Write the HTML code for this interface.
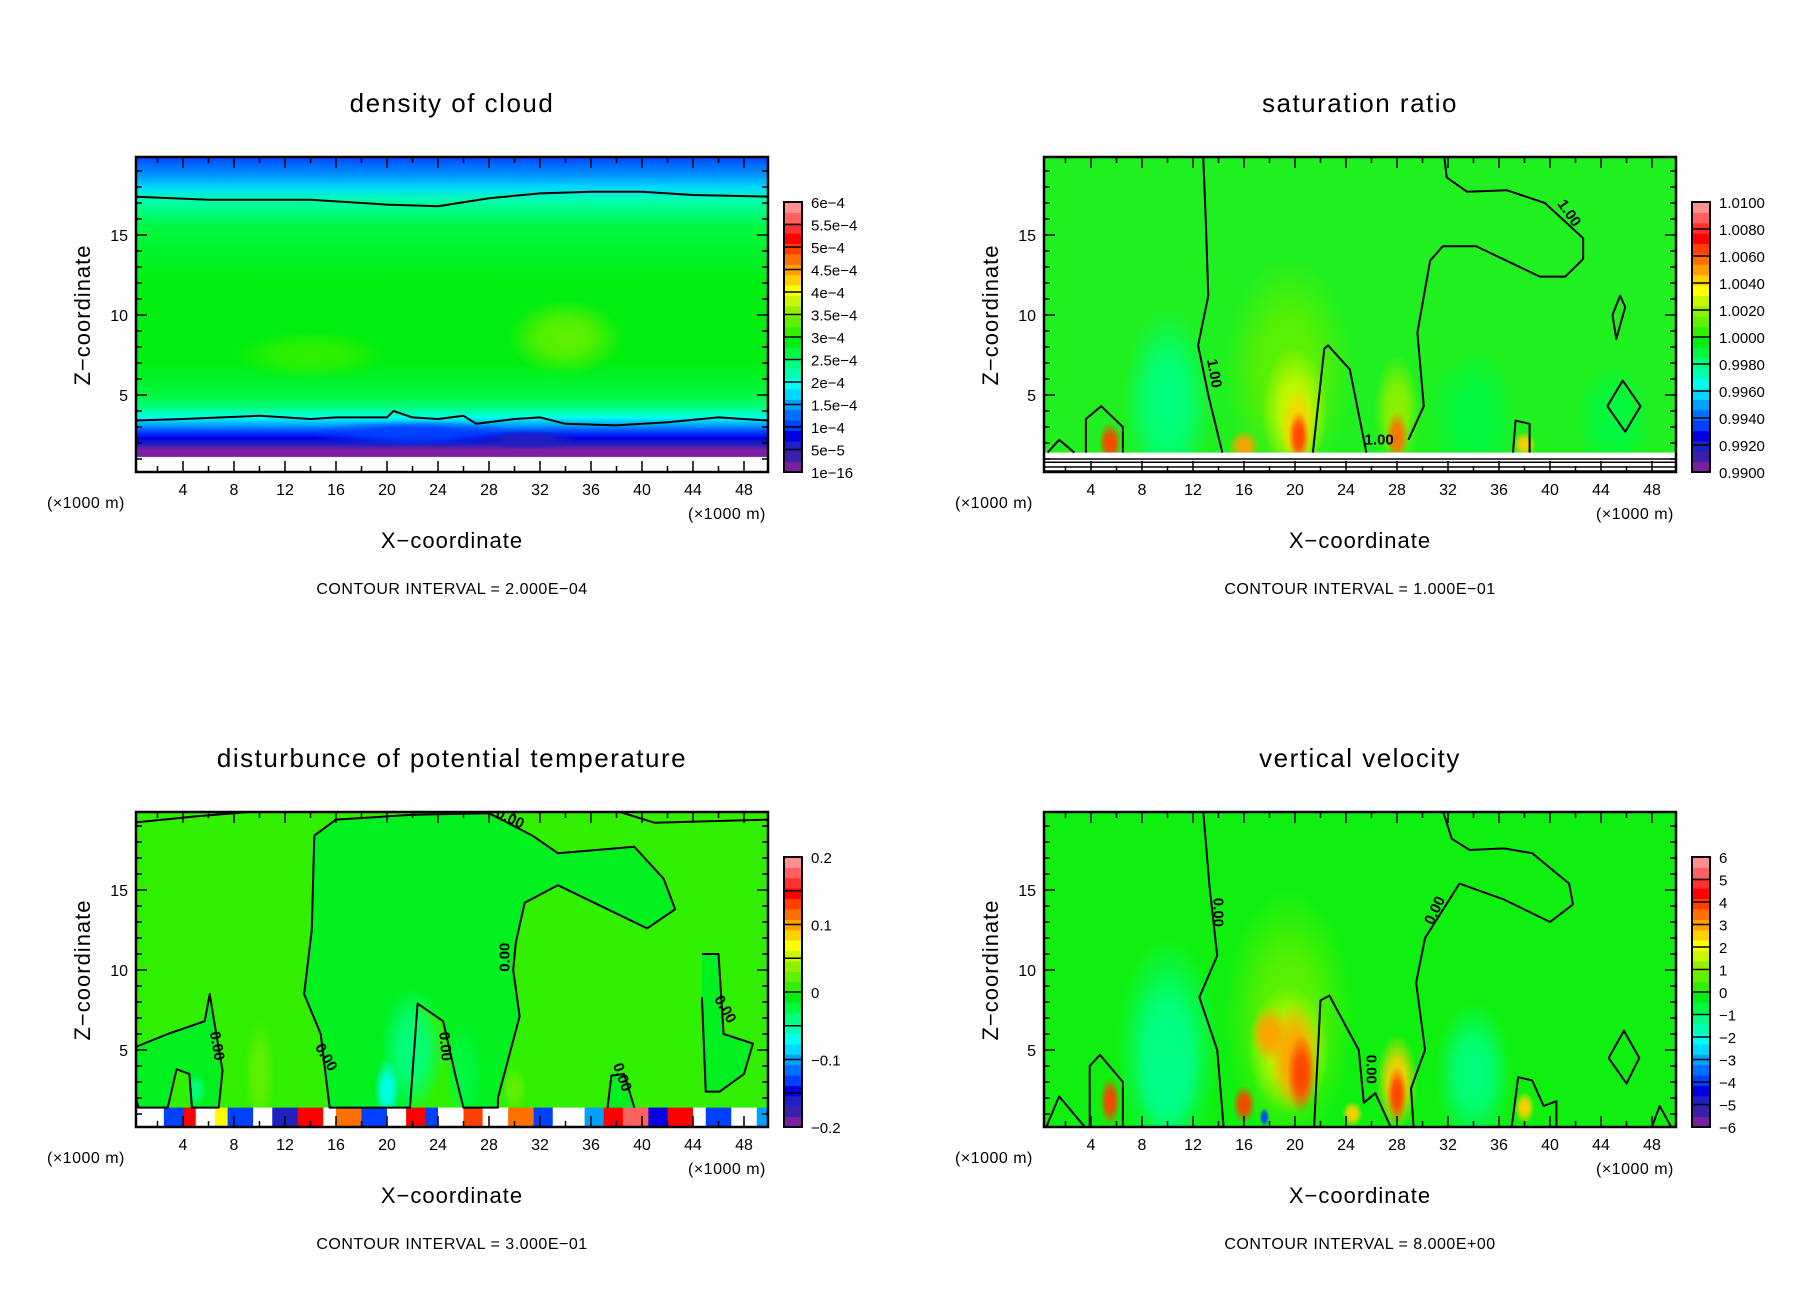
<!DOCTYPE html>
<html><head><meta charset="utf-8">
<style>
html,body{margin:0;padding:0;background:#fff;}
svg{display:block;}
text{font-family:"Liberation Sans","DejaVu Sans",sans-serif;fill:#000;}
</style></head>
<body>
<svg id="fig" width="1808" height="1308" viewBox="0 0 1808 1308" xmlns="http://www.w3.org/2000/svg">
<defs></defs>
</svg>
<script>
// colormap, index 0 (lowest) .. 25 (highest)
const cmap = ["#7a1fa0","#3a1fa8","#2020c0","#0000e0","#0040ff","#0070ff","#00a0ff","#00d8ff","#00ffee","#00ffb0","#00ff80","#00f840","#00ee10","#30f000","#60f000","#90f000","#c8f800","#ffff00","#ffd000","#ffa000","#ff7000","#ff4000","#ff0000","#ff3030","#ff6060","#ff9090"];

const xTicks = [4,8,12,16,20,24,28,32,36,40,44,48];
const zTicks = [5,10,15];

// panel 1: density of cloud
const p1Labels = ["6e\u22124","5.5e\u22124","5e\u22124","4.5e\u22124","4e\u22124","3.5e\u22124","3e\u22124","2.5e\u22124","2e\u22124","1.5e\u22124","1e\u22124","5e\u22125","1e\u221216"];
const p1GradZ =   [19.94,19.3,18.6,18.0,17.2,15.5,12.0,7.0,5.0,4.2,3.6,3.1,2.7,2.3,1.9,1.6,1.15,1.1];
const p1GradLvl = [4,    5,   6,   7,   9,   11,  12,  12, 11, 10, 8,  6,  4,  3,  2,  0,  0,   -1];
const p1Blobs = [[34,8.6,4.5,2.4,14],[14,7.5,6,1.5,13],[22,2.6,8,0.8,4],[31,2.2,4,0.6,2]];
const p1Contours = [
 [[0,17.4],[6,17.2],[14,17.2],[20,16.9],[24,16.8],[28,17.3],[32,17.6],[36,17.7],[40,17.7],[44,17.5],[50,17.4]],
 [[0,3.4],[4,3.5],[10,3.7],[14,3.5],[16,3.6],[20,3.6],[20.5,4.0],[22,3.6],[24,3.5],[26,3.7],[27,3.2],[30,3.5],[32,3.6],[34,3.2],[38,3.1],[42,3.3],[46,3.6],[50,3.4]]
];

// panel 2: saturation ratio
const p2Labels = ["1.0100","1.0080","1.0060","1.0040","1.0020","1.0000","0.9980","0.9960","0.9940","0.9920","0.9900"];
const p2Blobs = [[19.5,6.5,5,7,14],[20,4,2.6,4,16],[20.2,3,1.4,2.5,18],[20.3,2.4,0.8,1.6,21],[16,1.8,1.2,1,19],[5.5,2,0.9,1.3,21],[28,4,1.8,3.5,15],[28,2.4,0.9,1.6,20],[10,4.5,3.5,6,10],[34,3.5,3.5,4.5,11],[45,3.5,3,3.5,11],[38,1.9,0.9,0.8,18]];
const p2Contours = [
 [[12.8,19.94],[13,16],[13.2,11.2],[12.4,8.1],[13.2,5],[14.3,1.4]],
 [[21.4,1.4],[22.3,7.9],[22.6,8.1],[24.3,6.6],[25.6,1.4]],
 [[28.9,2.2],[30.1,4.3],[29.6,8.9],[30.6,13.4],[31.6,14.3],[34.2,14.3],[39.2,12.4],[41.2,12.4],[42.6,13.5],[42.6,14.8],[39.6,17],[36.6,17.8],[33.5,17.7],[31.9,18.6],[31.7,19.94]],
 [[3.6,1.4],[3.6,3.5],[4.8,4.3],[6.5,3],[6.5,1.4]],
 [[0.6,1.4],[1.5,2.2],[2.7,1.4]],
 [[37.1,1.4],[37.3,3.4],[38.4,3.2],[38.4,1.4]],
 [[44.9,10],[45.5,11.2],[45.9,10.5],[45.2,8.5],[44.9,10]],
 [[44.5,4.3],[45.7,5.9],[47.1,4.3],[45.9,2.7],[44.5,4.3]]
];
const p2CLabels = [[13.3,6.3,"1.00",80],[41.2,16.2,"1.00",55],[26.6,1.9,"1.00",0]];

// panel 3: disturbance of potential temperature
const p3Labels = ["0.2","","0.1","","0","","\u22120.1","","\u22120.2"];
const p3Blobs = [[22,5,2.5,4,10],[20,2.5,1,2,8],[26,3.5,1.5,3,11],[10,3.5,1.2,3.5,14],[30,2.5,1,1.5,14],[5,2.5,0.8,1,10]];
const p3Inside = [[14.3,18.4],[16,19.4],[22,19.7],[28,19.8],[31.4,18.4],[33.4,17.3],[39.4,17.7],[41.7,15.7],[42.6,13.8],[40.4,12.6],[33.4,15.3],[30.8,14.2],[30.1,11.7],[29.9,10],[30.4,7.1],[28.7,2],[28.7,1.4],[26,1.4],[25.4,3.3],[24.4,6.8],[22.4,7.9],[21.8,1.4],[15.5,1.4],[14.8,6],[13.5,8.5],[14.1,12.5],[14.3,18.4]];
const p3Lobes = [
 [[0,5.1],[2.8,6],[5.7,6.8],[6.1,8.5],[6.4,7],[7.1,3.7],[6.8,1.4],[4.7,1.4],[4.5,3.5],[3.5,3.8],[2.8,1.4],[0.5,1.4],[0,3]],
 [[44.7,11],[46,11],[46.4,6],[48.7,5.4],[48,3.5],[46.1,2.4],[45,2.4],[44.7,8.3]],
 [[37.3,1.4],[37.6,3.4],[38.6,3.5],[39.4,1.4]]
];
const p3Contours = [
 [[0,19.2],[5,19.6],[10.1,19.94]],
 [[38,19.94],[41,19.2],[50,19.4]]
];
const p3CLabels = [[29.5,19.2,"0.00",25],[6.3,5.2,"0.00",80],[14.9,4.4,"0.00",60],[24.2,5.2,"0.00",85],[29.6,10.8,"0.00",-90],[38.1,3.2,"0.00",70],[46.2,7.4,"0.00",60]];
const p3Band = [[0,2.5,-1],[2.5,1.5,4],[4,1,22],[5,1.5,-1],[6.5,1,17],[7.5,2,4],[9.5,1.5,-1],[11,2,2],[13,2,22],[15,1,-1],[16,2,20],[18,2,4],[20,1.5,-1],[21.5,1.5,22],[23,1,4],[24,2,-1],[26,1.5,21],[27.5,2,-1],[29.5,2,20],[31.5,1.5,4],[33,2.5,-1],[35.5,1.5,6],[37,1.5,22],[38.5,2,24],[40.5,1.5,3],[42,2,22],[44,1,-1],[45,2,4],[47,2,-1],[49,1,6]];

// panel 4: vertical velocity
const p4Labels = ["6","5","4","3","2","1","0","\u22121","\u22122","\u22123","\u22124","\u22125","\u22126"];
const p4Blobs = [[19.5,7,5,8,14],[19.5,5,3.2,4,16],[20,4.5,2,3.5,19],[20.5,3.5,1.1,2.5,21],[18,6,1.5,1.8,19],[16,1.6,0.9,1.2,21],[28,3,1.6,3,18],[28,2.2,0.8,1.8,21],[5.5,1.8,0.8,1.5,21],[10,4,2.5,4.5,8],[10,5,4,7,10],[34,3.5,3,4.5,10],[24.5,1,0.8,0.8,18],[38,1.4,0.8,1,18],[17.6,0.8,0.4,0.6,4]];
const p4Contours = [
 [[12.8,19.94],[13.3,15.2],[13.9,10.9],[12.5,8.3],[13.9,5],[14.4,0.2]],
 [[21.5,0.2],[22,8.1],[22.7,8.4],[25,5],[25.4,1.7],[26.3,2.3],[27.5,0.2]],
 [[29.3,0.2],[29.1,2.6],[30.2,5],[29.5,9.2],[30.2,12],[32.9,15.4],[36.4,14.4],[40,13],[41.8,14.1],[41.5,15.4],[38.6,17.3],[36.4,17.6],[33.7,17.5],[32.3,18.2],[31.6,19.94]],
 [[3.9,0.2],[3.9,4],[4.7,4.7],[6.5,3],[6.5,0.2]],
 [[0.5,0.2],[1.5,2.1],[3.5,0.2]],
 [[37,0.2],[37.5,3.3],[38.6,3.1],[39.5,1.5],[40.5,1.8],[40.5,0.2]],
 [[44.6,4.5],[45.8,6.2],[47,4.5],[46,2.9],[44.6,4.5]],
 [[48,0.2],[48.6,1.5],[49.5,0.2]]
];
const p4CLabels = [[13.6,13.6,"0.00",90],[25.6,3.8,"0.00",90],[31.3,13.6,"0.00",-65]];

const NS = "http://www.w3.org/2000/svg";
const svg = document.getElementById("fig");
const defs = svg.querySelector("defs");
function mk(tag, attrs, parent){ const e=document.createElementNS(NS,tag); for(const k in attrs) e.setAttribute(k,attrs[k]); (parent||svg).appendChild(e); return e; }

function panel(ox, oy, id, title, ci, bg, cfg){
  const L=136+ox, R=768+ox, T=157+oy, B=472+oy;
  const X = x => ox + 132 + 12.75*x;
  const Z = z => oy + 475 - 16*z;
  const g = mk("g",{});
  
  
  const t = mk("text",{x:(L+R)/2,y:oy+112,"text-anchor":"middle","font-size":26,"letter-spacing":"1.5"},g);
  t.textContent = title;
  
  
  const cp = mk("clipPath",{id:id+"clip"},defs);
  mk("rect",{x:L,y:T,width:R-L,height:B-T},cp);
  const plot = mk("g",{"clip-path":"url(#"+id+"clip)"},g);
  
  
  const bgr = mk("rect",{x:L,y:T,width:R-L,height:B-T,fill:bg},plot);
  
  
  if(cfg.grad){
    const z0=cfg.grad[0][0], z1=cfg.grad[0][cfg.grad[0].length-1];
    const gr = mk("linearGradient",{id:id+"grad",gradientUnits:"userSpaceOnUse",x1:0,x2:0,y1:Z(z0),y2:Z(z1)},defs);
    cfg.grad[0].forEach((z,i)=>{ const lv=cfg.grad[1][i]; mk("stop",{offset:(z0-z)/(z0-z1),"stop-color":lv<0?"#ffffff":cmap[lv]},gr); });
    bgr.setAttribute("fill","url(#"+id+"grad)");
  }
  (cfg.fills||[]).forEach((poly,i)=>{
    const p = mk("polygon",{points:poly.map(q=>X(q[0])+","+Z(q[1])).join(" "),fill:cfg.fillColor},plot);
    
    
  });
  (cfg.blobs||[]).forEach((b,i)=>{
    const rg = mk("radialGradient",{id:id+"rg"+i},defs);
    mk("stop",{offset:0,"stop-color":cmap[b[4]],"stop-opacity":1},rg);
    mk("stop",{offset:0.45,"stop-color":cmap[b[4]],"stop-opacity":0.85},rg);
    mk("stop",{offset:1,"stop-color":cmap[b[4]],"stop-opacity":0},rg);
    const e = mk("ellipse",{cx:X(b[0]),cy:Z(b[1]),rx:12.75*b[2],ry:16*b[3],fill:"url(#"+id+"rg"+i+")"},plot);
    
    
  });
  if(cfg.grad){
    const zb = cfg.grad[0][cfg.grad[0].length-1];
    const wb = mk("rect",{x:L,y:Z(zb),width:R-L,height:B-Z(zb),fill:"#ffffff"},plot);
    
    
  }
  if(cfg.band){
    cfg.band.forEach((s,i)=>{
      const r = mk("rect",{x:X(s[0]),y:Z(1.4),width:12.75*s[1]+0.5,height:B-Z(1.4),fill:s[2]<0?"#ffffff":cmap[s[2]]},plot);
      
      
    });
  }
  if(cfg.whiteBand){
    const r = mk("rect",{x:L,y:Z(cfg.whiteBand),width:R-L,height:B-Z(cfg.whiteBand),fill:"#ffffff"},plot);
    
    
    (cfg.bandLines||[]).forEach((z,i)=>{
      const l = mk("line",{x1:L,x2:R,y1:Z(z),y2:Z(z),stroke:"#000","stroke-width":1.5},plot);
      
      
    });
  }
  const allC = (cfg.contours||[]).concat(cfg.fillsOutline?cfg.fills:[]);
  allC.forEach((c,i)=>{
    const p = mk("polyline",{points:c.map(q=>X(q[0])+","+Z(q[1])).join(" "),fill:"none",stroke:"#000","stroke-width":2,"stroke-linejoin":"round"},plot);
    
    
  });
  (cfg.clabels||[]).forEach((c,i)=>{
    const tl = mk("text",{x:0,y:0,"text-anchor":"middle","font-size":15,"font-weight":"bold",transform:"translate("+X(c[0])+","+Z(c[1])+") rotate("+c[3]+")"},plot);
    tl.textContent = c[2];
    
    
  });
  const fr = mk("rect",{x:L,y:T,width:R-L,height:B-T,fill:"none",stroke:"#000","stroke-width":2.5},g);
  
  
  for(let x=2;x<50;x+=2){ const len = x%4===0?11:6;
    mk("line",{x1:X(x),x2:X(x),y1:B,y2:B-len,stroke:"#000","stroke-width":1.5},g);
    mk("line",{x1:X(x),x2:X(x),y1:T,y2:T+len,stroke:"#000","stroke-width":1.5},g);
  }
  for(let z=1;z<20;z++){ const len = z%5===0?11:6;
    mk("line",{x1:L,x2:L+len,y1:Z(z),y2:Z(z),stroke:"#000","stroke-width":1.5},g);
    mk("line",{x1:R,x2:R-len,y1:Z(z),y2:Z(z),stroke:"#000","stroke-width":1.5},g);
  }
  xTicks.forEach(v=>{ const tx=mk("text",{x:X(v),y:oy+495,"text-anchor":"middle","font-size":16},g); tx.textContent=v;
    
     });
  zTicks.forEach(v=>{ const tz=mk("text",{x:L-8,y:Z(v)+6,"text-anchor":"end","font-size":16},g); tz.textContent=v;
    
     });
  const u1=mk("text",{x:ox+47,y:oy+508,"font-size":16,"letter-spacing":"0.5"},g); u1.textContent="(\u00d71000 m)";
  
  
  const u2=mk("text",{x:ox+688,y:oy+519,"font-size":16,"letter-spacing":"0.5"},g); u2.textContent="(\u00d71000 m)";
  
  
  const xl=mk("text",{x:(L+R)/2,y:oy+548,"text-anchor":"middle","font-size":22,"letter-spacing":"1"},g); xl.textContent="X\u2212coordinate";
  
  
  const zl=mk("text",{x:0,y:0,"text-anchor":"middle","font-size":22,"letter-spacing":"1",transform:"translate("+(ox+90)+","+(oy+315)+") rotate(-90)"},g); zl.textContent="Z\u2212coordinate";
  
  
  const cl=mk("text",{x:(L+R)/2,y:oy+594,"text-anchor":"middle","font-size":16,"letter-spacing":"0.5"},g); cl.textContent="CONTOUR INTERVAL = "+ci;
  
  
  const cbT=oy+202, cbB=oy+472, cbL=ox+784, cbW=18, n=cmap.length;
  const cb = mk("g",{},g);
  
  
  for(let i=0;i<n;i++){
    const h=(cbB-cbT)/n;
    mk("rect",{x:cbL,y:cbB-(i+1)*h,width:cbW,height:h+0.5,fill:cmap[i]},cb);
  }
  cfg.labels.forEach((s,i)=>{
    const y = cbT + i*(cbB-cbT)/(cfg.labels.length-1);
    mk("line",{x1:cbL,x2:cbL+cbW,y1:y,y2:y,stroke:"#000","stroke-width":1.5},cb);
    const lt=mk("text",{x:cbL+cbW+9,y:y+6,"font-size":15},cb); lt.textContent=s;
    
    
  });
  mk("rect",{x:cbL,y:cbT,width:cbW,height:cbB-cbT,fill:"none",stroke:"#000","stroke-width":2},cb);
}

panel(0,0,"cloud-density","density  of  cloud","2.000E\u221204","#00ee10",{grad:[p1GradZ,p1GradLvl],blobs:p1Blobs,contours:p1Contours,labels:p1Labels});
panel(908,0,"saturation","saturation  ratio","1.000E\u221201","#20f020",{blobs:p2Blobs,contours:p2Contours,clabels:p2CLabels,labels:p2Labels,whiteBand:1.4,bandLines:[1.0,0.8,0.5,0.25]});
panel(0,655,"theta","disturbunce  of  potential  temperature","3.000E\u221201","#30f000",{fills:[p3Inside].concat(p3Lobes),fillColor:"#00f020",fillsOutline:true,blobs:p3Blobs,contours:p3Contours,clabels:p3CLabels,band:p3Band,labels:p3Labels});
panel(908,655,"w-velocity","vertical  velocity","8.000E+00","#10f010",{blobs:p4Blobs,contours:p4Contours,clabels:p4CLabels,labels:p4Labels});
</script>
</body></html>
